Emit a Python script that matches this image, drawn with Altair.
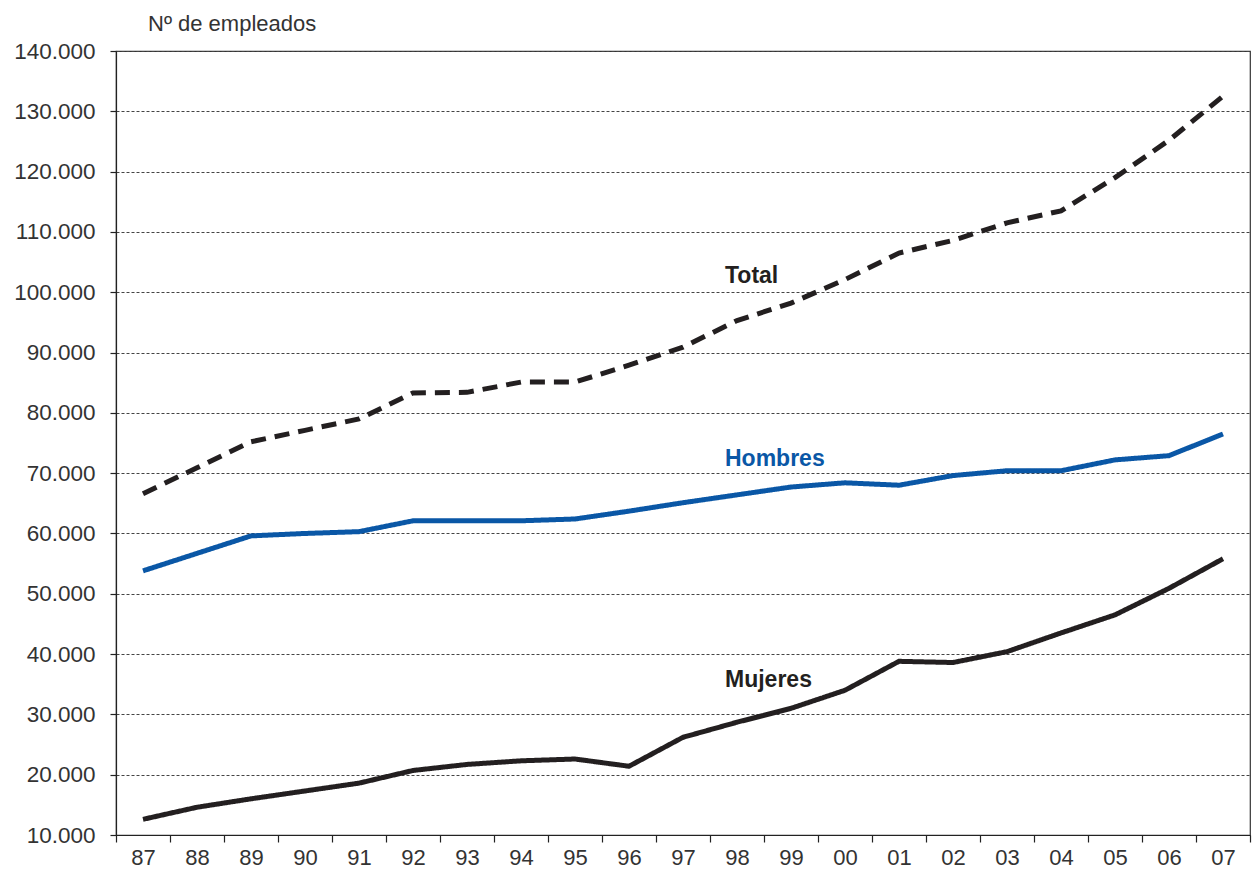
import altair as alt
import pandas as pd

years = ["87", "88", "89", "90", "91", "92", "93", "94", "95", "96", "97",
         "98", "99", "00", "01", "02", "03", "04", "05", "06", "07"]
total = [66600, 70900, 75200, 77100, 79000, 83300, 83400, 85100, 85100, 87900, 90900,
         95300, 98200, 102100, 106500, 108600, 111500, 113500, 119000, 125200, 132500]
hombres = [53800, 56700, 59600, 60000, 60300, 62100, 62100, 62100, 62400, 63700, 65100,
           66400, 67700, 68400, 68000, 69600, 70400, 70400, 72200, 72900, 76500]
mujeres = [12600, 14600, 16000, 17300, 18600, 20700, 21700, 22300, 22600, 21400, 26200,
           28700, 31000, 34000, 38800, 38600, 40400, 43500, 46500, 50900, 55800]

series_names = ["Total", "Hombres", "Mujeres"]
series_colors = ["#231F20", "#0A57A6", "#231F20"]
series_dash = [[15, 9], [1, 0], [1, 0]]

label_text = ["Total", "Hombres", "Mujeres"]
label_year = ["97", "97", "97"]
label_value = [101500, 71200, 34600]

rows = []
for name, vals in zip(series_names, [total, hombres, mujeres]):
    for y, v in zip(years, vals):
        rows.append({"year": y, "serie": name, "valor": v})
df = pd.DataFrame(rows)

labels_df = pd.DataFrame({"year": label_year, "valor": label_value, "serie": label_text})

x_enc = alt.X(
    "year:N",
    sort=years,
    bandPosition=0.5,
    scale=alt.Scale(type="band", paddingInner=0, paddingOuter=0),
    axis=alt.Axis(
        title=None,
        tickBand="extent",
        labelFontSize=22,
        labelPadding=5,
        tickSize=7,
        grid=False,
        labelAngle=0,
    ),
)
y_enc = alt.Y(
    "valor:Q",
    scale=alt.Scale(domain=[10000, 140000], nice=False, zero=False),
    axis=alt.Axis(
        title=None,
        values=list(range(10000, 140001, 10000)),
        labelExpr="replace(format(datum.value, ','), ',', '.')",
        labelFontSize=22.5,
        labelPadding=15,
        tickSize=6,
        grid=True,
        gridDash=[3, 2],
        gridColor="#444444",
        gridWidth=1,
    ),
)

color_scale = alt.Scale(domain=series_names, range=series_colors)

lines = alt.Chart(df).mark_line(strokeWidth=5, strokeCap="butt").encode(
    x=x_enc,
    y=y_enc,
    color=alt.Color("serie:N", scale=color_scale, legend=None),
    strokeDash=alt.StrokeDash("serie:N", scale=alt.Scale(domain=series_names, range=series_dash), legend=None),
    detail="serie:N",
)

texts = alt.Chart(labels_df).mark_text(
    align="left", baseline="alphabetic", dx=42, fontSize=23, fontWeight="bold",
    font="Liberation Sans",
).encode(
    x=alt.X("year:N", sort=years, bandPosition=0.5),
    y=alt.Y("valor:Q"),
    text="serie:N",
    color=alt.Color("serie:N", scale=color_scale, legend=None),
)

chart = alt.layer(lines, texts).properties(
    width=1134,
    height=784,
    autosize=alt.AutoSizeParams(type="none"),
    padding={"left": 108, "top": 43, "right": 2, "bottom": 34},
    title=alt.TitleParams(
        text="Nº de empleados",
        anchor="start",
        frame="group",
        dx=32,
        offset=4,
        fontSize=22,
        fontWeight="normal",
        color="#333333",
        font="Liberation Sans",
    ),
).configure_view(
    stroke="#333333", strokeWidth=1.2
).configure_axis(
    labelFont="Liberation Sans",
    labelColor="#333333",
    domainColor="#222222",
    tickColor="#222222",
    domainWidth=1.2,
    tickWidth=1.2,
)

chart.save("out.html", embed_options={"renderer": "svg", "actions": False})
